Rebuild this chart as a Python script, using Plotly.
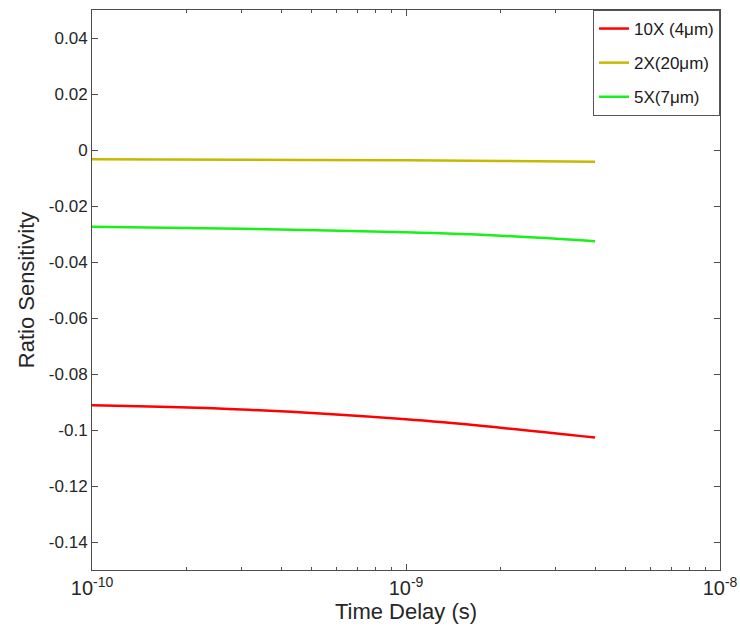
import plotly.graph_objects as go

# Time delay samples (s) and ratio sensitivity for each magnification
time_delay = [1e-10, 3e-10, 1e-9, 2e-9, 4e-9]
sens_10x = [-0.0912, -0.0927, -0.0962, -0.0992, -0.1027]
sens_2x = [-0.0033, -0.0035, -0.0037, -0.0039, -0.0042]
sens_5x = [-0.0274, -0.0281, -0.0294, -0.0306, -0.0326]

series_names = ["10X (4\u03bcm)", "2X(20\u03bcm)", "5X(7\u03bcm)"]
series_colors = ["#FF0000", "#C6B900", "#19F019"]

y_tickvals = [0.04, 0.02, 0, -0.02, -0.04, -0.06, -0.08, -0.1, -0.12, -0.14]
y_ticktext = ["0.04", "0.02", "0", "-0.02", "-0.04", "-0.06", "-0.08", "-0.1", "-0.12", "-0.14"]
x_tickvals = [1e-10, 1e-9, 1e-8]
x_ticktext = ["10<sup>-10</sup>", "10<sup>-9</sup>", "10<sup>-8</sup>"]
x_minor = [k * 1e-10 for k in range(2, 10)] + [k * 1e-9 for k in range(2, 10)]

fig = go.Figure()
for i, (name, vals, col) in enumerate(zip(series_names, [sens_10x, sens_2x, sens_5x], series_colors)):
    fig.add_trace(go.Scatter(
        x=time_delay, y=vals, mode="lines", name=name,
        line=dict(color=col, width=2.5, shape="spline"),
        legendgroup=f"g{i}",
    ))

font_family = "Liberation Sans, Arial, sans-serif"
axis_color = "#4d4d4d"

fig.update_layout(
    width=740, height=630,
    margin=dict(l=92, r=20, t=10, b=60, autoexpand=False),
    paper_bgcolor="white", plot_bgcolor="white",
    font=dict(family=font_family, size=17, color="#262626"),
    showlegend=True,
    legend=dict(
        x=1, y=1, xanchor="right", yanchor="top",
        bgcolor="white", bordercolor="#555555", borderwidth=1,
        font=dict(size=17, color="#1a1a1a"),
        tracegroupgap=9,
        itemwidth=30,
    ),
    xaxis=dict(
        type="log", range=[-10, -8], automargin=False,
        tickmode="array", tickvals=x_tickvals, ticktext=x_ticktext,
        ticks="inside", ticklen=6, tickcolor=axis_color,
        showline=True, linecolor=axis_color, linewidth=1, mirror="allticks",
        showgrid=False, zeroline=False,
        minor=dict(tickmode="array", tickvals=x_minor, ticks="inside", ticklen=3,
                   tickcolor=axis_color, showgrid=False),
        title=dict(text="Time Delay (s)", font=dict(size=22), standoff=0),
        tickfont=dict(size=20),
    ),
    yaxis=dict(
        range=[-0.15, 0.05], automargin=False,
        tickmode="array", tickvals=y_tickvals, ticktext=y_ticktext,
        ticks="inside", ticklen=6, tickcolor=axis_color,
        showline=True, linecolor=axis_color, linewidth=1, mirror="allticks",
        showgrid=False, zeroline=False,
        title=dict(text="Ratio Sensitivity", font=dict(size=22), standoff=8),
        tickfont=dict(size=17),
    ),
)

fig.write_html("out.html")
